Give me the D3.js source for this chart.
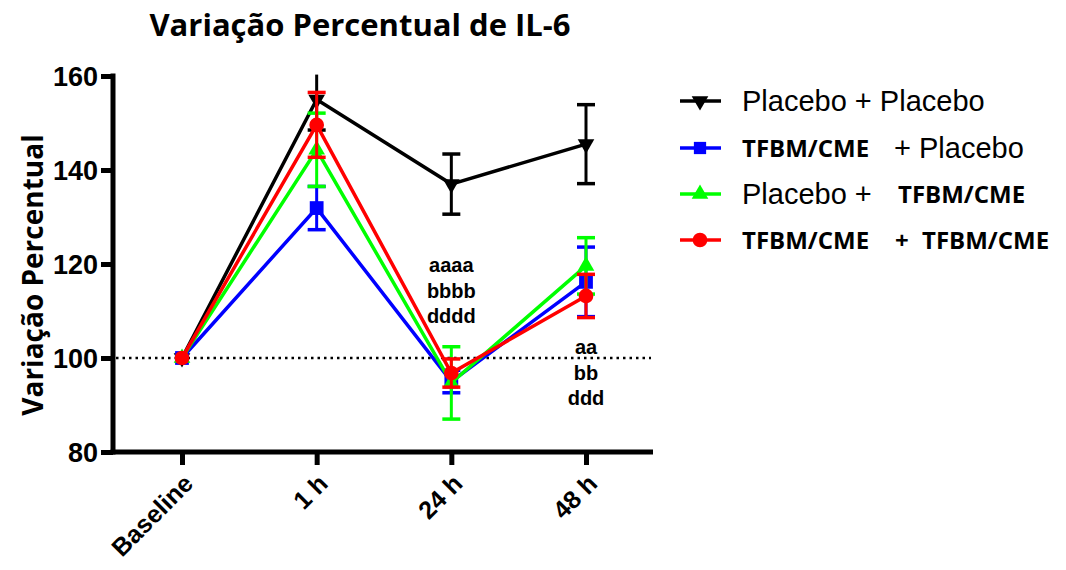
<html>
<head>
<meta charset="utf-8">
<script src="https://d3js.org/d3.v7.min.js"></script>
<style>
  body { margin: 0; background: #fff; }
</style>
</head>
<body>
<svg id="chart" width="1066" height="570"></svg>
<script>
// data
var times = ["Baseline", "1 h", "24 h", "48 h"];
var yTicks = [80, 100, 120, 140, 160];

var placeboPlacebo = [100, 155.0, 137.0, 145.5];
var placeboPlaceboErr = [0, 6.5, 6.4, 8.4];

var tfbmPlacebo = [100, 131.9, 95.0, 116.2];
var tfbmPlaceboErr = [0, 4.6, 2.4, 7.4];

var placeboTfbm = [100, 144.3, 94.7, 119.6];
var placeboTfbmErr = [0, 7.8, 7.7, 6.0];

var tfbmTfbm = [100, 149.6, 96.8, 113.2];
var tfbmTfbmErr = [0, 6.9, 3.0, 4.6];

var notes24 = ["aaaa", "bbbb", "dddd"];
var notes48 = ["aa", "bb", "ddd"];

var series = [
  {vals: placeboPlacebo, err: placeboPlaceboErr, color: "#000000", shape: "down"},
  {vals: tfbmPlacebo, err: tfbmPlaceboErr, color: "#0000ff", shape: "square"},
  {vals: placeboTfbm, err: placeboTfbmErr, color: "#00ff00", shape: "up"},
  {vals: tfbmTfbm, err: tfbmTfbmErr, color: "#ff0000", shape: "circle"}
];

var svg = d3.select("#chart");
var arial = "'Liberation Sans', Arial, sans-serif";
var narrow = "'Liberation Sans Narrow', 'Liberation Sans', Arial, sans-serif";
var calibri = "'Open Sans', 'Noto Sans', sans-serif";

var x = d3.scalePoint().domain(times).range([182, 586]);
var y = d3.scaleLinear().domain([80, 160]).range([452, 76]);

function symbolFor(shape, big) {
  if (shape == "square") return d3.symbol().type(d3.symbolSquare).size(big ? 190 : 150)();
  if (shape == "circle") return d3.symbol().type(d3.symbolCircle).size(170)();
  return d3.symbol().type(d3.symbolTriangle).size(120)();
}
function symbolRot(shape) { return shape == "down" ? " rotate(180)" : ""; }

// title
svg.append("text")
  .attr("x", 360).attr("y", 36)
  .attr("text-anchor", "middle")
  .style("font-family", calibri)
  .attr("font-size", "31px").attr("font-weight", "bold")
  .text("Variação Percentual de IL-6");

// y label
svg.append("text")
  .attr("transform", "translate(43, 275) rotate(-90)")
  .attr("text-anchor", "middle")
  .style("font-family", calibri)
  .attr("font-size", "28px").attr("font-weight", "bold")
  .text("Variação Percentual");

// dotted line at 100
svg.append("line")
  .attr("x1", 116).attr("x2", 651)
  .attr("y1", y(100)).attr("y2", y(100))
  .attr("stroke", "#000").attr("stroke-width", 2.5)
  .attr("stroke-dasharray", "2.5,4");

// axes
var yAxis = svg.append("g")
  .attr("transform", "translate(113,0)")
  .call(d3.axisLeft(y).tickValues(yTicks).tickSize(12).tickPadding(3));
yAxis.select(".domain").remove();
yAxis.selectAll(".tick line").attr("stroke", "#000").attr("stroke-width", 5);
yAxis.selectAll(".tick text")
  .style("font-family", narrow)
  .attr("font-size", "27px").attr("font-weight", "bold")
  .attr("dy", "0.36em")
  .attr("fill", "#000");

svg.append("line")
  .attr("x1", 113).attr("x2", 113)
  .attr("y1", y(160) - 2.5).attr("y2", y(80) + 2.5)
  .attr("stroke", "#000").attr("stroke-width", 5);

var xAxis = svg.append("g")
  .attr("transform", "translate(0," + y(80) + ")")
  .call(d3.axisBottom(x).tickSize(13).tickPadding(6));
xAxis.select(".domain").remove();
xAxis.selectAll(".tick line").attr("stroke", "#000").attr("stroke-width", 5);
xAxis.selectAll(".tick text")
  .style("font-family", arial)
  .attr("font-size", "25px").attr("font-weight", "bold")
  .attr("fill", "#000")
  .attr("text-anchor", "end")
  .attr("x", 0).attr("y", 0)
  .attr("dy", "0.35em")
  .attr("transform", "translate(6,27) rotate(-45)");

svg.append("line")
  .attr("x1", 110.5).attr("x2", 653)
  .attr("y1", y(80)).attr("y2", y(80))
  .attr("stroke", "#000").attr("stroke-width", 5);

// series
var line = d3.line().x(function(d, i) { return x(times[i]); }).y(function(d) { return y(d); });

series.forEach(function(s) {
  var g = svg.append("g");
  // error bars
  s.vals.forEach(function(v, i) {
    if (s.err[i] == 0) return;
    var cx = x(times[i]);
    var hi = v + s.err[i], lo = v - s.err[i];
    var clipped = hi > 160;
    var top = Math.min(hi, 160.3);
    g.append("line")
      .attr("x1", cx).attr("x2", cx)
      .attr("y1", y(top)).attr("y2", y(lo))
      .attr("stroke", s.color).attr("stroke-width", 3);
    var caps = clipped ? [lo] : [hi, lo];
    caps.forEach(function(c) {
      g.append("line")
        .attr("x1", cx - 9).attr("x2", cx + 9)
        .attr("y1", y(c)).attr("y2", y(c))
        .attr("stroke", s.color).attr("stroke-width", 3.5);
    });
  });
  g.append("path")
    .attr("d", line(s.vals))
    .attr("fill", "none")
    .attr("stroke", s.color).attr("stroke-width", 3.5);
  g.selectAll(".pt").data(s.vals).enter().append("path")
    .attr("d", symbolFor(s.shape, true))
    .attr("transform", function(d, i) { return "translate(" + x(times[i]) + "," + y(d) + ")" + symbolRot(s.shape); })
    .attr("fill", s.color);
});

// annotations
function notes(list, col, top) {
  svg.append("g").selectAll("text").data(list).enter().append("text")
    .attr("x", x(col)).attr("y", function(d, i) { return top + i * 25.5; })
    .attr("text-anchor", "middle")
    .style("font-family", arial)
    .attr("font-size", "20px").attr("font-weight", "bold")
    .attr("fill", "#000")
    .text(function(d) { return d; });
}
notes(notes24, "24 h", 272);
notes(notes48, "48 h", 354);

// legend
var legendRows = [
  {parts: [{t: "Placebo + Placebo", b: false, x: 742}], color: "#000000", shape: "down"},
  {parts: [{t: "TFBM/CME", b: true, x: 742}, {t: "+ Placebo", b: false, x: 894}], color: "#0000ff", shape: "square"},
  {parts: [{t: "Placebo +", b: false, x: 742}, {t: "TFBM/CME", b: true, x: 898}], color: "#00ff00", shape: "up"},
  {parts: [{t: "TFBM/CME", b: true, x: 742}, {t: "+", b: true, x: 895}, {t: "TFBM/CME", b: true, x: 922}], color: "#ff0000", shape: "circle"}
];
var legendY = [101, 148, 194, 240];

legendRows.forEach(function(r, i) {
  var ly = legendY[i];
  svg.append("line")
    .attr("x1", 680).attr("x2", 721)
    .attr("y1", ly).attr("y2", ly)
    .attr("stroke", r.color).attr("stroke-width", 3.5);
  svg.append("path")
    .attr("d", symbolFor(r.shape, false))
    .attr("transform", "translate(700," + ly + ")" + symbolRot(r.shape))
    .attr("fill", r.color);
  r.parts.forEach(function(p) {
    svg.append("text")
      .attr("x", p.x).attr("y", ly + (p.b ? 9 : 10))
      .style("font-family", p.b ? calibri : arial)
      .attr("font-size", p.b ? "24px" : "29px")
      .attr("font-weight", p.b ? "bold" : "normal")
      .attr("fill", "#000")
      .text(p.t);
  });
});
</script>
</body>
</html>
